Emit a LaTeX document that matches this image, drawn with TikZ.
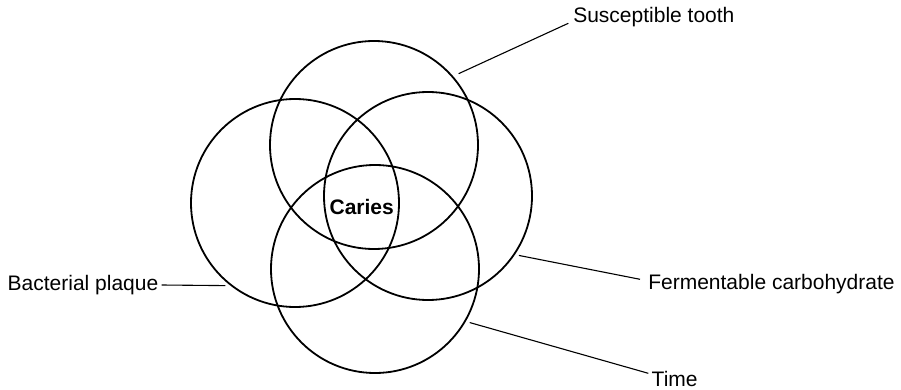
\documentclass[tikz,border=0pt]{standalone}
\usepackage{fontspec}
\setmainfont{Liberation Sans}
\begin{document}
\begin{tikzpicture}[x=1pt,y=-1pt,
  ring/.style={draw, circle, line width=1.8pt, minimum size=208pt, inner sep=0pt},
  lbl/.style={inner sep=0pt, outer sep=0pt, font=\fontsize{21}{25}\selectfont},
  conn/.style={line width=1.1pt}]
\useasboundingbox (0,0) rectangle (901,390);
% circles
\node[ring] (top) at (374,145) {};
\node[ring] (left) at (295,203) {};
\node[ring] (right) at (428,196) {};
\node[ring] (bottom) at (375,269) {};
% centre text
\node[lbl, font=\fontsize{21}{25}\selectfont\bfseries, anchor=base] (caries) at (361.7,214) {Caries};
% labels
\node[lbl, anchor=base west] (st) at (573.3,22.7) {Susceptible tooth};
\node[lbl, anchor=base east] (bp) at (158.3,290) {Bacterial plaque};
\node[lbl, anchor=base west] (fc) at (648.3,289.3) {Fermentable carbohydrate};
\node[lbl, anchor=base west] (tm) at (651.7,386.7) {Time};
% connectors
\draw[conn, shorten <=6pt] (top.41.5) -- ([xshift=-5pt,yshift=-0.6pt]st.base west);
\draw[conn, shorten <=5pt] (left.232) -- ([xshift=3.4pt,yshift=5pt]bp.base east);
\draw[conn, shorten <=4pt] (right.-34.8) -- ([xshift=-8.3pt,yshift=10pt]fc.base west);
\draw[conn, shorten <=4pt] (bottom.-30.5) -- ([xshift=-3.4pt,yshift=13.4pt]tm.base west);
\end{tikzpicture}
\end{document}
